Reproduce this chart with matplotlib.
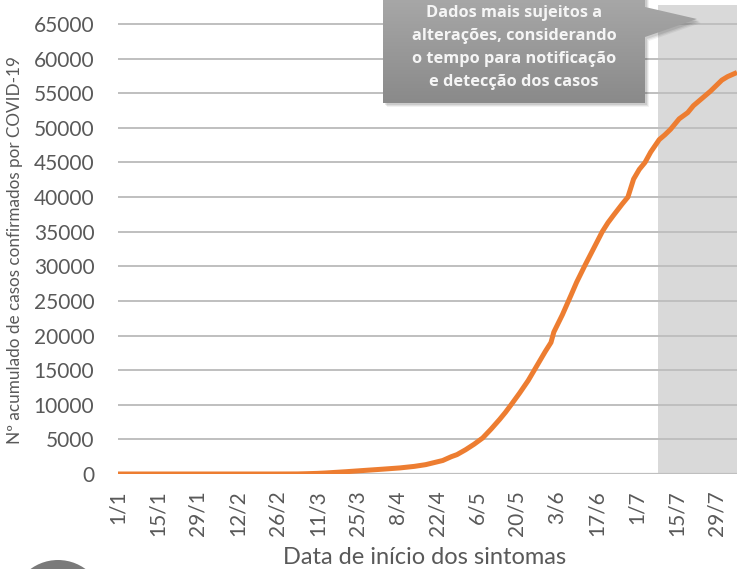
import matplotlib
matplotlib.use("Agg")
import matplotlib.pyplot as plt
from matplotlib.patches import Polygon, Ellipse
from matplotlib.colors import LinearSegmentedColormap
import numpy as np

# ---- data (day index from 1/1/2020, cumulative confirmed cases) ----
days = [0, 20, 40, 55, 63, 66, 70, 73, 80, 87, 93, 99, 104, 108, 111, 114, 117, 119,
        122, 125, 128, 131, 134, 136, 138, 141, 144, 147, 150, 152, 153, 156, 159, 161,
        164, 167, 170, 172, 174, 177, 179, 180, 181, 183, 185, 187, 190, 192, 194, 197,
        200, 202, 204, 206, 208, 210, 212, 214, 217.3]
cases = [0, 0, 0, 0, 10, 40, 90, 150, 330, 530, 700, 880, 1100, 1350, 1650, 1950, 2500, 2800,
         3500, 4300, 5200, 6500, 7900, 8900, 10000, 11700, 13500, 15600, 17700, 19000, 20500,
         23000, 25800, 27700, 30200, 32600, 35000, 36300, 37400, 39000, 40000, 41300, 42600,
         44000, 45000, 46500, 48300, 49000, 49800, 51300, 52200, 53200, 53900, 54600, 55300,
         56100, 56900, 57400, 58000]
tick_days = [0, 14, 28, 42, 56, 70, 84, 98, 112, 126, 140, 154, 168, 182, 196, 210]
tick_labels = ["1/1", "15/1", "29/1", "12/2", "26/2", "11/3", "25/3", "8/4", "22/4",
               "6/5", "20/5", "3/6", "17/6", "1/7", "15/7", "29/7"]
y_ticks = list(range(0, 65001, 5000))
shade_start = 189.5
x_end = 217.3

W, H = 737, 569
fig = plt.figure(figsize=(W / 100, H / 100), dpi=100)
plt.rcParams['font.family'] = ['Lato', 'DejaVu Sans']
txt = '#595959'

ax = fig.add_axes([118 / W, (H - 474) / H, (W - 118) / W, (474 - 5) / H])
ax.set_xlim(0, x_end)
ax.set_ylim(0, 65000 * (474 - 5) / (474 - 24))

ax.axvspan(shade_start, x_end, color='#d9d9d9', zorder=0.1, lw=0)
for v in y_ticks[1:]:
    ax.axhline(v, color='#bfbfbf', lw=1.4, zorder=0.5)
ax.axhline(0, color='#bfbfbf', lw=1.6, zorder=0.6)

ax.plot(days, cases, color='#ED7D31', lw=3.6, zorder=3, solid_capstyle='butt',
        solid_joinstyle='round')

for s in ax.spines.values():
    s.set_visible(False)
ax.set_yticks(y_ticks)
ax.set_yticklabels([str(v) for v in y_ticks])
ax.set_xticks(tick_days)
ax.set_xticklabels(tick_labels, rotation=90)
ax.tick_params(axis='both', length=0, labelsize=15, colors=txt)
ax.tick_params(axis='y', pad=17)
ax.tick_params(axis='x', pad=12)

fig.text(425 / W, 1 - 557 / H, "Data de início dos sintomas", ha='center', va='center',
         fontsize=17, color=txt)
fig.text(15 / W, 1 - 250 / H, "Nº acumulado de casos confirmados por COVID-19", ha='center',
         va='center', rotation=90, fontsize=12.3, color=txt)


def fx(px):
    return px / W


def fy(py):
    return 1 - py / H


# ---- callout box ----
gax = fig.add_axes([0, 0, 1, 1], zorder=6)
gax.set_xlim(0, 1)
gax.set_ylim(0, 1)
gax.axis('off')
gax.patch.set_alpha(0)

shape = [(383, -5), (645, -5), (645, 7), (697, 19), (645, 37), (645, 103), (383, 103)]
for k, a in [(4, 0.05), (3, 0.07), (2, 0.09)]:
    sh = Polygon([(fx(x + k), fy(y + k)) for x, y in shape], closed=True,
                 transform=gax.transData, facecolor='black', alpha=a, edgecolor='none',
                 zorder=5)
    gax.add_patch(sh)

grad = np.linspace(0, 1, 100).reshape(-1, 1)
cmap = LinearSegmentedColormap.from_list('g', ['#8a8a8a', '#a8a8a8'])
im = gax.imshow(grad, cmap=cmap, extent=[fx(383), fx(697), fy(103), fy(-5)], aspect='auto',
                origin='lower', zorder=6)
clip = Polygon([(fx(x), fy(y)) for x, y in shape], closed=True, transform=gax.transData,
               facecolor='none', edgecolor='none')
gax.add_patch(clip)
im.set_clip_path(clip)

lines = ["Dados mais sujeitos a", "alterações, considerando", "o tempo para notificação",
         "e detecção dos casos"]
for i, l in enumerate(lines):
    gax.text(fx(514), fy(13 + 23 * i), l, ha='center', va='center', color='#f5f5f5',
             fontsize=11.8, fontweight='bold', family=['Open Sans', 'DejaVu Sans'],
             zorder=7)

# bottom-left decorative circle
r = 46.5
circ = Ellipse((fx(58), fy(606.5)), 2 * r / W, 2 * r / H, transform=fig.transFigure,
               facecolor='#7a7a7a', edgecolor='none', zorder=5)
fig.add_artist(circ)

fig.savefig("out.png", dpi=100)
